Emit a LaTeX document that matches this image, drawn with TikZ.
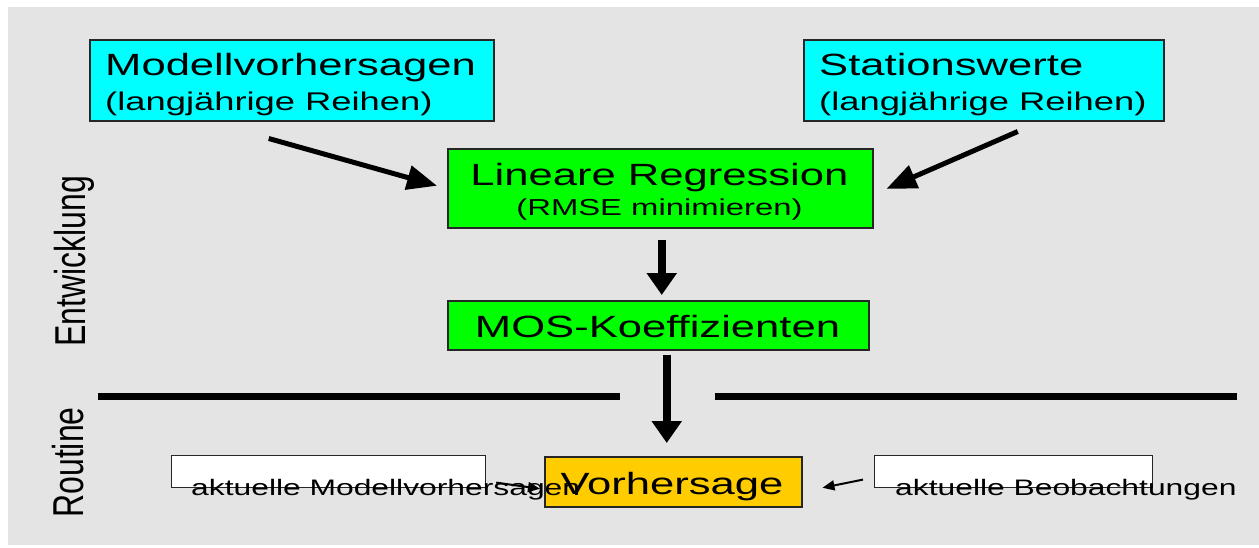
\documentclass[tikz,border=0pt]{standalone}
\usepackage{fontspec}
\usetikzlibrary{arrows.meta,calc}
\newfontfamily\wsans[FakeStretch=1.42]{Liberation Sans}
\newfontfamily\nsans{Liberation Sans}
\newcommand\fTitle{\wsans\fontsize{30.7}{36}\selectfont}
\newcommand\fSubA{\wsans\fontsize{25.6}{30}\selectfont}
\newcommand\fSubB{\wsans\fontsize{23.1}{28}\selectfont}
\newcommand\fSmall{\wsans\fontsize{22.4}{27}\selectfont}
\newcommand\fSide{\nsans\fontsize{32}{38}\selectfont}
\definecolor{bggray}{RGB}{228,228,228}
\definecolor{boxcyan}{RGB}{0,255,255}
\definecolor{boxgreen}{RGB}{0,255,0}
\definecolor{boxorange}{RGB}{255,204,0}
\tikzset{
  box/.style={draw=black!85, line width=1.5pt, inner sep=0pt, anchor=north west},
  txt/.style={inner sep=0pt, anchor=base west, text=black},
  ctxt/.style={inner sep=0pt, anchor=base, text=black},
  bigarrow/.style={line width=5pt, -{Triangle[length=30pt,width=24pt]}},
  vertarrow/.style={line width=7.5pt, -{Triangle[length=22pt,width=29pt]}},
  smallarrow/.style={line width=2pt, -{Triangle[length=12pt,width=10pt]}},
  divider/.style={line width=7pt}
}
\begin{document}
\begin{tikzpicture}[x=1pt,y=-1pt]
\useasboundingbox (0,0) rectangle (1259,547);
\fill[white] (0,0) rectangle (1259,547);
\fill[bggray] (8,7) rectangle (1259,545);

% top boxes
\node[box, fill=boxcyan, minimum width=404pt, minimum height=81pt] (mv) at (89,39) {};
\node[txt, font=\fTitle] (mvt) at (105,75) {Modellvorhersagen};
\node[txt, font=\fSubA] (mvs) at (105,110) {(langjährige Reihen)};

\node[box, fill=boxcyan, minimum width=360pt, minimum height=81pt] (st) at (803,39) {};
\node[txt, font=\fTitle] (stt) at (819,75) {Stationswerte};
\node[txt, font=\fSubA] (sts) at (819,110) {(langjährige Reihen)};

% regression
\node[box, fill=boxgreen, minimum width=425pt, minimum height=79pt] (lr) at (447,148) {};
\node[ctxt, font=\fTitle] (lrt) at (659.5,185) {Lineare Regression};
\node[ctxt, font=\fSubB] (lrs) at (659.5,215) {(RMSE minimieren)};

% MOS
\node[box, fill=boxgreen, minimum width=421pt, minimum height=49pt] (mos) at (447,300) {};
\node[ctxt, font=\fTitle] (most) at (657.5,337) {MOS-Koeffizienten};

% dividers
\draw[divider] (98,396) -- (620,396);
\draw[divider] (715,396) -- (1237,396);

% side labels
\node[inner sep=0pt, anchor=base, rotate=90, font=\fSide] (ent) at (85,261.5) {\scalebox{1}[1.35]{Entwicklung}};
\node[inner sep=0pt, anchor=base, rotate=90, font=\fSide] (rou) at (83,462.5) {\scalebox{1}[1.35]{Routine}};

% bottom
\node[box, fill=boxorange, minimum width=257pt, minimum height=50pt] (vh) at (544,456) {};
\node[ctxt, font=\fTitle] (vht) at (672,494) {Vorhersage};

\node[box, fill=white, line width=1.2pt, minimum width=314pt, minimum height=32pt] (wl) at (171,455) {};
\node[box, fill=white, line width=1.2pt, minimum width=278pt, minimum height=32pt] (wr) at (874,455) {};

% arrows
\draw[bigarrow] ($(mv.south)+(-23,17)$) -- ($(lr.west)+(-10,-2.5)$);
\draw[bigarrow] ($(st.south)+(34,10)$) -- ($(lr.east)+(13,0.5)$);
\draw[vertarrow] ($(lr.south)+(1.5,11)$) -- ($(mos.north)+(3.5,-5)$);
\draw[vertarrow] ($(mos.south)+(8.5,4)$) -- ($(vh.north)+(-6.5,-13)$);
\draw[smallarrow] ($(wl.east)+(10,11)$) -- ($(vh.west)+(-4,7)$);
\draw[smallarrow] ($(wr.west)+(-11,8)$) -- ($(vh.east)+(20,6)$);

\node[txt, font=\fSmall] (wlt) at (191,495) {aktuelle Modellvorhersagen};
\node[txt, font=\fSmall] (wrt) at (895,495) {aktuelle Beobachtungen};
\end{tikzpicture}
\end{document}
